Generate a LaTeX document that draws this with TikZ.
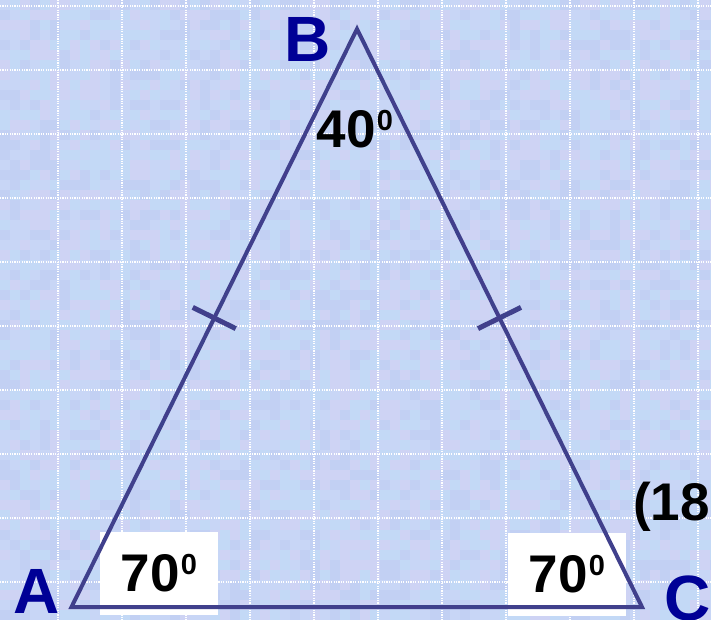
\documentclass[tikz,border=0pt]{standalone}
\usepackage{fontspec}
\setmainfont{Liberation Sans}
\usetikzlibrary{calc}
\definecolor{bgbase}{RGB}{200,214,246}
\definecolor{bgcyan}{RGB}{184,226,248}
\definecolor{bglav}{RGB}{220,206,240}
\definecolor{bgdark}{RGB}{182,196,238}
\definecolor{triline}{RGB}{64,64,140}
\definecolor{lettercol}{RGB}{0,0,150}
\tikzset{
 gridline/.style={white, line width=1.2pt, dash pattern=on 1.2pt off 1.2pt},
 side/.style={triline, line width=4pt, line join=miter},
 tickmark/.style={triline, line width=5pt},
 vertexlabel/.style={font=\fontsize{64}{64}\selectfont\bfseries, text=lettercol, inner sep=0pt},
 anglelabel/.style={font=\fontsize{53}{53}\selectfont\bfseries, inner sep=0pt},
 anglebox/.style={anglelabel, fill=white, minimum width=118pt, minimum height=83pt},
}
\newcommand{\degsup}{\kern1pt\smash{\raisebox{17pt}{\fontsize{29}{29}\selectfont 0}}}
\begin{document}
\begin{tikzpicture}[x=1pt,y=-1pt]
\useasboundingbox (0,0) rectangle (711,620);
\fill[bgbase] (0,0) rectangle (711,620);
\pgfmathsetseed{7}
\foreach \i in {0,...,71}{
  \foreach \j in {0,...,62}{
    \pgfmathrandominteger{\rr}{0}{3}
    \ifcase\rr \def\cc{bgcyan}\or\def\cc{bglav}\or\def\cc{bgdark}\else\def\cc{bgbase}\fi
    \fill[\cc, opacity=0.3] (\i*10,\j*10) rectangle ++(10,10);
  }
}
\foreach \k in {0,...,10} \draw[gridline] (58+64*\k,0) -- (58+64*\k,620);
\foreach \k in {0,...,9} \draw[gridline] (0,6+64*\k) -- (711,6+64*\k);
\node[anglebox] (aA) at (159,573.5) {70\degsup};
\node[anglebox] (aC) at (567,574) {70\degsup};
\coordinate (A) at (71.5,607);
\coordinate (B) at (357,29);
\coordinate (C) at (642,607);
\draw[side] (A) -- (B) -- (C) -- cycle;
\coordinate (mAB) at ($(A)!0.5!(B)$);
\coordinate (mBC) at ($(B)!0.5!(C)$);
\draw[tickmark] ($(mAB)!24pt!90:(B)$) -- ($(mAB)!24pt!-90:(B)$);
\draw[tickmark] ($(mBC)!24pt!90:(B)$) -- ($(mBC)!24pt!-90:(B)$);
\node[vertexlabel, anchor=base west] (lB) at (284,62) {B};
\node[vertexlabel, anchor=base west] (lA) at (13,613) {A};
\node[vertexlabel, anchor=base west] (lC) at (664,620) {C};
\node[anglelabel] (aB) at (355,129) {40\degsup};
\node[anglelabel, anchor=base west] (frac) at (633,520) {(18};
\end{tikzpicture}
\end{document}
